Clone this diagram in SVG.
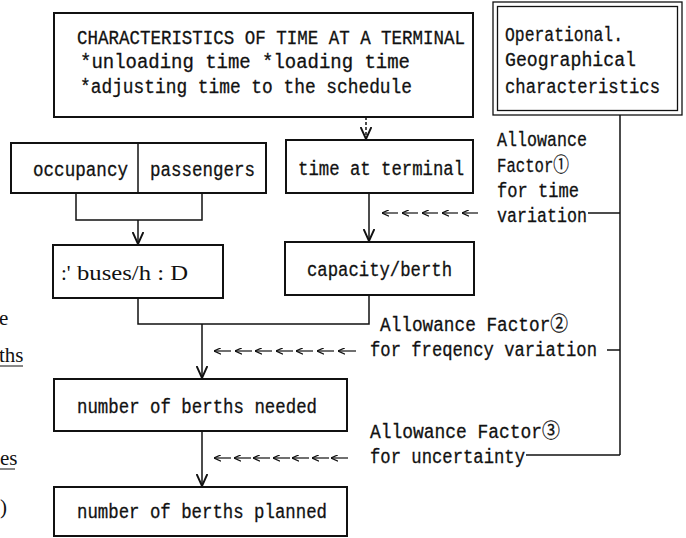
<svg xmlns="http://www.w3.org/2000/svg" width="686" height="538" viewBox="0 0 686 538">
<defs>
<marker id="ah" markerUnits="userSpaceOnUse" markerWidth="12" markerHeight="12" viewBox="0 0 10 10" refX="10" refY="5" orient="auto">
<path d="M0,0.5 L10,5 L0,9.5" fill="none" stroke="#111" stroke-width="1.6"/>
</marker>
<marker id="sm" markerUnits="userSpaceOnUse" markerWidth="7" markerHeight="7" viewBox="0 0 6 6" refX="6" refY="3" orient="auto">
<path d="M0,0.3 L6,3 L0,5.7" fill="none" stroke="#111" stroke-width="1.1"/>
</marker>
<style>
.box{fill:#fff;stroke:#111;stroke-width:2}
.thin{fill:none;stroke:#111;stroke-width:1.3}
.t{font-family:"Liberation Mono","DejaVu Sans Mono","Noto Sans CJK JP",monospace;font-size:20px;fill:#111;stroke:#111;stroke-width:0.3}
.s{font-family:"Liberation Serif","Noto Sans CJK JP",serif;font-size:21px;fill:#111}
.c{fill:none;stroke:#111;stroke-width:1.5}
.dot{fill:none;stroke:#111;stroke-width:1.5;stroke-dasharray:3 2}
.tk{stroke:#111;stroke-width:1.2;marker-end:url(#sm)}
</style>
</defs>
<rect width="686" height="538" fill="#fff"/>

<g id="terminal-characteristics">
<rect class="box" x="54" y="13" width="419" height="104"/>
<text class="t" x="77" y="44" textLength="388" lengthAdjust="spacingAndGlyphs">CHARACTERISTICS OF TIME AT A TERMINAL</text>
<text class="t" x="80" y="68" textLength="330" lengthAdjust="spacingAndGlyphs">*unloading time  *loading time</text>
<text class="t" x="80" y="93" textLength="332" lengthAdjust="spacingAndGlyphs">*adjusting time to the schedule</text>
</g>

<g id="operational-geographical">
<rect class="thin" x="493" y="2" width="189" height="113"/>
<rect class="thin" x="497.5" y="6.5" width="180" height="104"/>
<text class="t" x="505" y="41" textLength="118" lengthAdjust="spacingAndGlyphs">Operational.</text>
<text class="t" x="505" y="66" textLength="131" lengthAdjust="spacingAndGlyphs">Geographical</text>
<text class="t" x="505" y="93" textLength="155" lengthAdjust="spacingAndGlyphs">characteristics</text>
</g>

<g id="occupancy-passengers">
<rect class="box" x="11" y="143" width="255" height="50"/>
<line class="c" x1="138" y1="143" x2="138" y2="193"/>
<text class="t" x="33" y="176" textLength="95" lengthAdjust="spacingAndGlyphs">occupancy</text>
<text class="t" x="150" y="176" textLength="105" lengthAdjust="spacingAndGlyphs">passengers</text>
</g>

<g id="time-at-terminal">
<rect class="box" x="286" y="140" width="187" height="53"/>
<text class="t" x="298" y="175" textLength="166" lengthAdjust="spacingAndGlyphs">time at terminal</text>
</g>

<g id="buses-per-hour">
<rect class="box" x="53" y="245" width="170" height="53"/>
<text class="s" x="61" y="280">:'</text>
<text class="s" x="77" y="280" textLength="111" lengthAdjust="spacingAndGlyphs">buses/h : D</text>
</g>

<g id="capacity-berth">
<rect class="box" x="285" y="242" width="189" height="53"/>
<text class="t" x="307" y="276" textLength="145" lengthAdjust="spacingAndGlyphs">capacity/berth</text>
</g>

<g id="berths-needed">
<rect class="box" x="54" y="379" width="293" height="52"/>
<text class="t" x="77" y="413" textLength="240" lengthAdjust="spacingAndGlyphs">number of berths needed</text>
</g>

<g id="berths-planned">
<rect class="box" x="54" y="487" width="293" height="49"/>
<text class="t" x="77" y="518" textLength="250" lengthAdjust="spacingAndGlyphs">number of berths planned</text>
</g>

<g id="factor-1">
<text class="t" x="497" y="146" textLength="90" lengthAdjust="spacingAndGlyphs">Allowance</text>
<text class="t" x="497" y="172" textLength="72" lengthAdjust="spacingAndGlyphs">Factor①</text>
<text class="t" x="497" y="197" textLength="82" lengthAdjust="spacingAndGlyphs">for time</text>
<text class="t" x="497" y="222" textLength="90" lengthAdjust="spacingAndGlyphs">variation</text>
</g>

<g id="factor-2">
<text class="t" x="380" y="331" textLength="188" lengthAdjust="spacingAndGlyphs">Allowance Factor②</text>
<text class="t" x="370" y="356" textLength="227" lengthAdjust="spacingAndGlyphs">for freqency variation</text>
</g>

<g id="factor-3">
<text class="t" x="370" y="438" textLength="190" lengthAdjust="spacingAndGlyphs">Allowance Factor③</text>
<text class="t" x="370" y="463" textLength="155" lengthAdjust="spacingAndGlyphs">for uncertainty</text>
</g>

<g id="connectors">
<line class="dot" x1="366" y1="117" x2="366" y2="139" marker-end="url(#ah)"/>
<polyline class="c" points="76,193 76,220 202,220 202,193"/>
<line class="c" x1="138" y1="220" x2="138" y2="244" marker-end="url(#ah)"/>
<line class="c" x1="369" y1="193" x2="369" y2="241" marker-end="url(#ah)"/>
<polyline class="c" points="138,298 138,324 369,324 369,295"/>
<line class="c" x1="202" y1="324" x2="202" y2="378" marker-end="url(#ah)"/>
<line class="c" x1="202" y1="431" x2="202" y2="486" marker-end="url(#ah)"/>
<line class="c" x1="620" y1="115" x2="620" y2="455"/>
<line class="c" x1="588" y1="213" x2="620" y2="213"/>
<line class="c" x1="607" y1="350" x2="620" y2="350"/>
<line class="c" x1="526" y1="455" x2="620" y2="455"/>
<g id="arrows-1">
<line class="tk" x1="398" y1="213" x2="382" y2="213"/>
<line class="tk" x1="418" y1="213" x2="402" y2="213"/>
<line class="tk" x1="438" y1="213" x2="422" y2="213"/>
<line class="tk" x1="458" y1="213" x2="442" y2="213"/>
<line class="tk" x1="478" y1="213" x2="462" y2="213"/>
</g>
<g id="arrows-2">
<line class="tk" x1="231" y1="351" x2="214" y2="351"/>
<line class="tk" x1="252" y1="351" x2="235" y2="351"/>
<line class="tk" x1="272" y1="351" x2="255" y2="351"/>
<line class="tk" x1="293" y1="351" x2="276" y2="351"/>
<line class="tk" x1="313" y1="351" x2="296" y2="351"/>
<line class="tk" x1="334" y1="351" x2="317" y2="351"/>
<line class="tk" x1="356" y1="351" x2="338" y2="351"/>
</g>
<g id="arrows-3">
<line class="tk" x1="231" y1="458" x2="214" y2="458"/>
<line class="tk" x1="251" y1="458" x2="234" y2="458"/>
<line class="tk" x1="270" y1="458" x2="253" y2="458"/>
<line class="tk" x1="290" y1="458" x2="273" y2="458"/>
<line class="tk" x1="309" y1="458" x2="292" y2="458"/>
<line class="tk" x1="329" y1="458" x2="312" y2="458"/>
<line class="tk" x1="348" y1="458" x2="331" y2="458"/>
</g>
</g>

<g id="margin-fragments">
<text class="s" x="-1" y="325" font-size="20">e</text>
<text class="s" x="-1" y="362" font-size="20">ths</text>
<line x1="0" y1="366" x2="23" y2="366" stroke="#111" stroke-width="1"/>
<text class="s" x="0" y="465" font-size="18">es</text>
<line x1="0" y1="469" x2="15" y2="469" stroke="#111" stroke-width="1"/>
<text class="s" x="0" y="514" font-size="20">)</text>
</g>
</svg>
